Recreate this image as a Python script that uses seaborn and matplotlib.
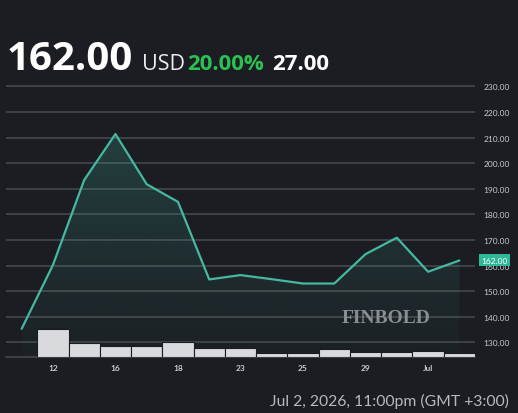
import numpy as np
import pandas as pd
import seaborn as sns
import matplotlib.pyplot as plt
from matplotlib.patches import PathPatch
from matplotlib.colors import to_rgb

# price series (index -1 is the opening point, 0..13 are the sessions)
price_x = list(range(-1, 14))
prices = [135.3, 160.2, 193.4, 211.4, 191.8, 184.9, 154.6, 156.3,
          154.7, 153.0, 153.0, 164.5, 170.9, 157.6, 162.0]

# volume bars, one per session
vol_x = list(range(14))
volumes = [840, 410, 320, 320, 450, 280, 260, 130, 110, 230, 150, 150, 190, 110]

tick_pos = [0, 2, 4, 6, 8, 10, 12]
tick_labels = ['12', '16', '18', '23', '25', '29', 'Jul']
y_ticks = list(range(130, 231, 10))
last_price = 162.00

bg = '#1b1d22'
grid_c = '#45484d'
teal = '#45b8a2'
text_c = '#c9cacc'

sns.set_theme(style='dark', rc={'figure.facecolor': bg, 'axes.facecolor': bg,
                                'axes.edgecolor': grid_c, 'grid.color': grid_c})
plt.rcParams['font.family'] = ['Lato', 'DejaVu Sans']

fig = plt.figure(figsize=(5.18, 4.14), dpi=100)
ax = fig.add_axes([6 / 518, 56 / 414, 469 / 518, 277 / 414])

ymin, ymax = 124.3, 232.5

df = pd.DataFrame({'x': price_x, 'price': prices})
sns.lineplot(data=df, x='x', y='price', ax=ax, color=teal, lw=1.6, zorder=3)

# gradient fill under the line
fill = ax.fill_between(price_x, prices, ymin, color='none', lw=0)
patch = PathPatch(fill.get_paths()[0], facecolor='none', edgecolor='none',
                  transform=ax.transData)
ax.add_patch(patch)
grad = np.zeros((256, 1, 4))
grad[:, 0, :3] = to_rgb(teal)
grad[:, 0, 3] = np.linspace(0.22, 0.02, 256)
im = ax.imshow(grad, extent=[-1, 13, ymin, max(prices)], aspect='auto',
               origin='upper', zorder=2)
im.set_clip_path(patch)

# volume bars on a twin axis
ax2 = ax.twinx()
sns.barplot(x=vol_x, y=volumes, native_scale=True, ax=ax2, color='#d9dadd',
            saturation=1, width=1, edgecolor=bg, linewidth=0.8)
ax2.set_ylim(0, max(volumes) * 277 / 28)
ax2.set_xlim(-1.5, 13.5)
ax2.set_yticks([])
ax2.set_ylabel('')
for s in ax2.spines.values():
    s.set_visible(False)

ax.set_xlim(-1.5, 13.5)
ax.set_ylim(ymin, ymax)
ax.set_yticks(y_ticks)
ax.set_yticklabels([f'{v:.2f}' for v in y_ticks])
ax.yaxis.tick_right()
ax.grid(axis='y', lw=1.2)
ax.grid(axis='x', visible=False)
ax.tick_params(axis='y', length=0, pad=6, labelsize=6, labelcolor=text_c)
ax.tick_params(axis='x', length=0, pad=5, labelsize=6, labelcolor=text_c)
ax.set_xticks(tick_pos)
ax.set_xticklabels(tick_labels, fontweight='bold')
ax.set_xlabel('')
ax.set_ylabel('')
for s in ['top', 'left', 'right']:
    ax.spines[s].set_visible(False)
ax.spines['bottom'].set_color(grid_c)
ax.spines['bottom'].set_linewidth(1.2)

# last price badge
ax.text(1.014, last_price, f'{last_price:.2f}', transform=ax.get_yaxis_transform(),
        ha='left', va='center', fontsize=6, color='white', zorder=5, clip_on=False,
        bbox=dict(boxstyle='square,pad=0.3', fc='#2fb898', ec='none'))

# watermark
fig.text(386 / 518, (414 - 319) / 414, 'FINBOLD', ha='center', va='center',
         fontsize=14, color='#8a8d91', family='Liberation Serif', fontweight='bold')

# header
base_y = (414 - 69.5) / 414
hdr_font = ['Open Sans', 'DejaVu Sans']
fig.text(7 / 518, base_y, '162.00', fontsize=29, fontweight='bold',
         color='white', va='baseline', family=hdr_font)
fig.text(142 / 518, base_y, 'USD', fontsize=15.5, fontweight='normal',
         color='#ececec', va='baseline', family=hdr_font)
fig.text(187 / 518, base_y, '20.00%', fontsize=16, fontweight='bold',
         color='#2bc052', va='baseline', family=hdr_font)
fig.text(272 / 518, base_y, '27.00', fontsize=16, fontweight='bold',
         color='white', va='baseline', family=hdr_font)

# footer timestamp
fig.text(509 / 518, (414 - 406) / 414, 'Jul 2, 2026, 11:00pm (GMT +3:00)',
         ha='right', va='baseline', fontsize=11.3, color='#b8b9bb')

fig.savefig('out.png', dpi=100, facecolor=bg)
